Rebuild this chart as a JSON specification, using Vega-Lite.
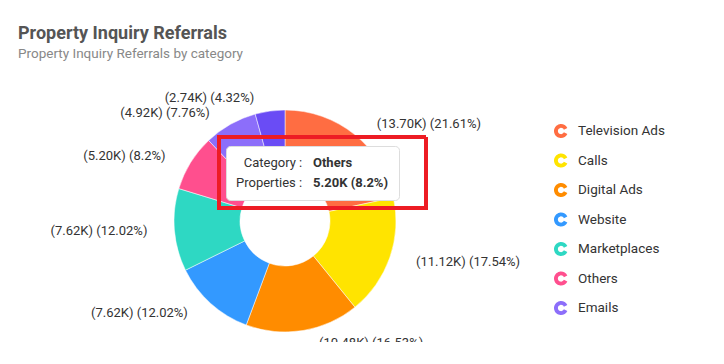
{
  "$schema": "https://vega.github.io/schema/vega-lite/v6.json",
  "autosize": {"type": "none"},
  "width": 560,
  "height": 242,
  "padding": {"left": 5, "top": 100, "right": 159, "bottom": 22},
  "background": "#ffffff",
  "title": {
    "text": "Property Inquiry Referrals",
    "subtitle": "Property Inquiry Referrals by category",
    "anchor": "start",
    "frame": "group",
    "offset": 32,
    "dx": 13,
    "font": "Roboto",
    "fontSize": 18,
    "fontWeight": "bold",
    "color": "#555555",
    "subtitleFont": "Roboto",
    "subtitleFontSize": 13.5,
    "subtitleColor": "#888888",
    "subtitlePadding": 4
  },
  "config": {"view": {"stroke": null}},
  "datasets": {
    "referrals": [
      {"idx": 1, "category": "Television Ads", "properties": 13.70, "label": "(13.70K) (21.61%)"},
      {"idx": 2, "category": "Calls", "properties": 11.12, "label": "(11.12K) (17.54%)"},
      {"idx": 3, "category": "Digital Ads", "properties": 10.48, "label": "(10.48K) (16.53%)"},
      {"idx": 4, "category": "Website", "properties": 7.62, "label": "(7.62K) (12.02%)"},
      {"idx": 5, "category": "Marketplaces", "properties": 7.62, "label": "(7.62K) (12.02%)"},
      {"idx": 6, "category": "Others", "properties": 5.20, "label": "(5.20K) (8.2%)"},
      {"idx": 7, "category": "Emails", "properties": 4.92, "label": "(4.92K) (7.76%)"},
      {"idx": 8, "category": "Social Media", "properties": 2.74, "label": "(2.74K) (4.32%)"}
    ],
    "tip": [
      {"tip": "Category :"},
      {"tip": "Properties :"},
      {"tip": "Others"},
      {"tip": "5.20K (8.2%)"}
    ],
    "highlight": [
      {"box": "box"}
    ]
  },
  "layer": [
    {
      "data": {"name": "referrals"},
      "mark": {"type": "arc", "innerRadius": 45, "outerRadius": 111, "stroke": "#ffffff", "strokeWidth": 0.5},
      "encoding": {
        "theta": {"field": "properties", "type": "quantitative", "stack": true},
        "order": {"field": "idx", "type": "quantitative"},
        "color": {
          "field": "category",
          "type": "nominal",
          "scale": {
            "domain": ["Television Ads", "Calls", "Digital Ads", "Website", "Marketplaces", "Others", "Emails", "Social Media"],
            "range": ["#FF6D42", "#FFE400", "#FF8C00", "#3399FF", "#2ED8C3", "#FF4F8E", "#8C6EFA", "#6A4CF5"]
          },
          "legend": {
            "orient": "none",
            "legendX": 549,
            "legendY": 24,
            "title": null,
            "values": ["Television Ads", "Calls", "Digital Ads", "Website", "Marketplaces", "Others", "Emails"],
            "symbolType": "M0.906,-0.423A1,1,0,1,0,0.906,0.423L0.408,0.19A0.45,0.45,0,1,1,0.408,-0.19Z",
            "symbolSize": 196,
            "symbolStrokeWidth": 0,
            "labelOffset": 10,
            "labelFont": "Roboto",
            "labelFontSize": 13.5,
            "labelColor": "#333333",
            "rowPadding": 13.5,
            "padding": 0
          }
        }
      }
    },
    {
      "data": {"name": "referrals"},
      "mark": {
        "type": "text",
        "radius": 124,
        "font": "Roboto",
        "fontSize": 13,
        "fill": "#333333",
        "baseline": "middle",
        "align": {"expr": "datum.properties_start + datum.properties_end > 63.4 ? 'right' : 'left'"},
        "dx": {"expr": "datum.properties_start + datum.properties_end > 63.4 ? -14 : 14"}
      },
      "encoding": {
        "theta": {"field": "properties", "type": "quantitative", "stack": true},
        "order": {"field": "idx", "type": "quantitative"},
        "detail": {"field": "category"},
        "text": {"field": "label"},
        "opacity": {"condition": {"test": "datum.category === 'Digital Ads'", "value": 0}, "value": 1}
      }
    },
    {
      "data": {"name": "referrals"},
      "mark": {
        "type": "text",
        "radius": 124,
        "clip": true,
        "font": "Roboto",
        "fontSize": 13,
        "fill": "#333333",
        "baseline": "middle",
        "align": {"expr": "datum.properties_start + datum.properties_end > 63.4 ? 'right' : 'left'"},
        "dx": {"expr": "datum.properties_start + datum.properties_end > 63.4 ? -14 : 14"}
      },
      "encoding": {
        "theta": {"field": "properties", "type": "quantitative", "stack": true},
        "order": {"field": "idx", "type": "quantitative"},
        "detail": {"field": "category"},
        "text": {"field": "label"},
        "opacity": {"condition": {"test": "datum.category === 'Digital Ads'", "value": 1}, "value": 0}
      }
    },
    {
      "data": {"name": "tip"},
      "mark": {"type": "point", "opacity": 0},
      "encoding": {
        "shape": {
          "field": "tip",
          "type": "nominal",
          "scale": {"domain": ["Category :", "Properties :", "Others", "5.20K (8.2%)"], "range": ["circle", "circle", "circle", "circle"]},
          "legend": {
            "orient": "none",
            "legendX": 221,
            "legendY": 46,
            "title": null,
            "columns": 2,
            "columnPadding": 10,
            "rowPadding": 6,
            "padding": 10,
            "symbolSize": 0,
            "symbolOpacity": 0,
            "symbolStrokeWidth": 0,
            "labelOffset": -13,
            "labelFont": "Roboto",
            "labelFontSize": 13,
            "labelColor": "#333333",
            "labelExpr": "datum.label === 'Category :' ? '\u200b\u00a0\u00a0\u200aCategory :' : datum.label",
            "labelFontWeight": {"expr": "datum.label === 'Others' || datum.label === '5.20K (8.2%)' ? 'bold' : 'normal'"},
            "fillColor": "#ffffff",
            "strokeColor": "#dddddd",
            "cornerRadius": 4
          }
        }
      }
    },
    {
      "data": {"name": "highlight"},
      "mark": {"type": "point", "opacity": 0, "color": "#ED1C24"},
      "encoding": {
        "strokeDash": {
          "field": "box",
          "type": "nominal",
          "scale": {"domain": ["box"], "range": [[1, 0]]},
          "legend": {
            "orient": "none",
            "legendX": 212,
            "legendY": 35,
            "title": null,
            "padding": 0,
            "symbolType": "M-1,-1H1V-0.314H-1Z",
            "symbolSize": 42849,
            "symbolStrokeColor": "#ED1C24",
            "symbolStrokeWidth": 4,
            "symbolFillColor": "transparent",
            "symbolOpacity": 1,
            "labelOffset": 0,
            "labelExpr": "''"
          }
        }
      }
    }
  ]
}
